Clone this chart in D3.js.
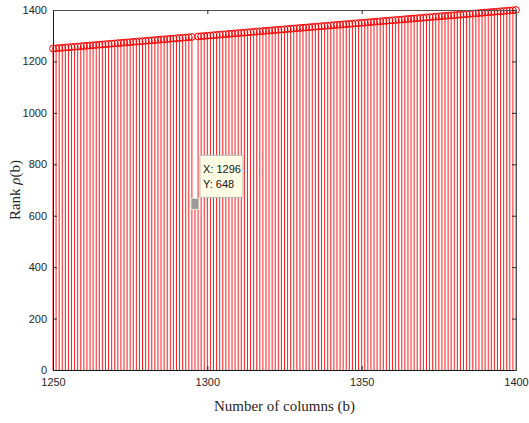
<!DOCTYPE html>
<html>
<head>
<meta charset="utf-8">
<script src="https://cdn.jsdelivr.net/npm/d3@7"></script>
<style>
  body { margin: 0; background: #fff; }
  svg { display: block; }
</style>
</head>
<body>
<main></main>
<script>
const WIDTH = 529
const HEIGHT = 423

// number of columns b
const columns = [
  1250,1251,1252,1253,1254,1255,1256,1257,1258,1259,
  1260,1261,1262,1263,1264,1265,1266,1267,1268,1269,
  1270,1271,1272,1273,1274,1275,1276,1277,1278,1279,
  1280,1281,1282,1283,1284,1285,1286,1287,1288,1289,
  1290,1291,1292,1293,1294,1295,1296,1297,1298,1299,
  1300,1301,1302,1303,1304,1305,1306,1307,1308,1309,
  1310,1311,1312,1313,1314,1315,1316,1317,1318,1319,
  1320,1321,1322,1323,1324,1325,1326,1327,1328,1329,
  1330,1331,1332,1333,1334,1335,1336,1337,1338,1339,
  1340,1341,1342,1343,1344,1345,1346,1347,1348,1349,
  1350,1351,1352,1353,1354,1355,1356,1357,1358,1359,
  1360,1361,1362,1363,1364,1365,1366,1367,1368,1369,
  1370,1371,1372,1373,1374,1375,1376,1377,1378,1379,
  1380,1381,1382,1383,1384,1385,1386,1387,1388,1389,
  1390,1391,1392,1393,1394,1395,1396,1397,1398,1399,
  1400
]

// rank rho(b)
const ranks = [
  1250,1251,1252,1253,1254,1255,1256,1257,1258,1259,
  1260,1261,1262,1263,1264,1265,1266,1267,1268,1269,
  1270,1271,1272,1273,1274,1275,1276,1277,1278,1279,
  1280,1281,1282,1283,1284,1285,1286,1287,1288,1289,
  1290,1291,1292,1293,1294,1295,648,1297,1298,1299,
  1300,1301,1302,1303,1304,1305,1306,1307,1308,1309,
  1310,1311,1312,1313,1314,1315,1316,1317,1318,1319,
  1320,1321,1322,1323,1324,1325,1326,1327,1328,1329,
  1330,1331,1332,1333,1334,1335,1336,1337,1338,1339,
  1340,1341,1342,1343,1344,1345,1346,1347,1348,1349,
  1350,1351,1352,1353,1354,1355,1356,1357,1358,1359,
  1360,1361,1362,1363,1364,1365,1366,1367,1368,1369,
  1370,1371,1372,1373,1374,1375,1376,1377,1378,1379,
  1380,1381,1382,1383,1384,1385,1386,1387,1388,1389,
  1390,1391,1392,1393,1394,1395,1396,1397,1398,1399,
  1400
]

const xTicks = [1250, 1300, 1350, 1400]
const yTicks = [0, 200, 400, 600, 800, 1000, 1200, 1400]

// datatip
const tipX = 1296
const tipY = 648

const margin = {left: 53, right: 13, top: 10, bottom: 53}

const svgCanvas = d3.select('main').append('svg')
  .attr('width', WIDTH)
  .attr('height', HEIGHT)

const x = d3.scaleLinear().domain([1250, 1400]).range([margin.left, WIDTH - margin.right])
const y = d3.scaleLinear().domain([0, 1400]).range([HEIGHT - margin.bottom, margin.top])

const nodes = columns.map((c, i) => ({c: c, r: ranks[i]}))

// stems
svgCanvas.append('g').selectAll('line')
  .data(nodes)
  .enter()
  .append('line')
  .attr('x1', d => x(d.c))
  .attr('x2', d => x(d.c))
  .attr('y1', y(0))
  .attr('y2', d => y(d.r))
  .style('stroke', '#ff0000')
  .style('stroke-width', 0.9)

// markers
svgCanvas.append('g').selectAll('circle')
  .data(nodes)
  .enter()
  .append('circle')
  .attr('cx', d => x(d.c))
  .attr('cy', d => y(d.r))
  .attr('r', 3.4)
  .style('fill', 'none')
  .style('stroke', '#ff0000')
  .style('stroke-width', 1)

const axisColor = '#262626'

// box + axes
const xAxis = svgCanvas.append('g')
  .attr('transform', `translate(0,${y(0)})`)
  .call(d3.axisBottom(x).tickValues(xTicks).tickSizeInner(-4).tickSizeOuter(0).tickPadding(8).tickFormat(d3.format('d')))
const yAxis = svgCanvas.append('g')
  .attr('transform', `translate(${x(1250)},0)`)
  .call(d3.axisLeft(y).tickValues(yTicks).tickSizeInner(-4).tickSizeOuter(0).tickPadding(6).tickFormat(d3.format('d')))
const xTop = svgCanvas.append('g')
  .attr('transform', `translate(0,${y(1400)})`)
  .call(d3.axisTop(x).tickValues(xTicks).tickSizeInner(-4).tickSizeOuter(0).tickFormat(''))
const yRight = svgCanvas.append('g')
  .attr('transform', `translate(${x(1400)},0)`)
  .call(d3.axisRight(y).tickValues(yTicks).tickSizeInner(-4).tickSizeOuter(0).tickFormat(''))

;[xAxis, yAxis, xTop, yRight].forEach(g => {
  g.selectAll('path').style('stroke', axisColor).style('stroke-width', 1)
  g.selectAll('line').style('stroke', axisColor)
  g.selectAll('text')
    .style('font-family', '"Liberation Sans", Arial, sans-serif')
    .style('font-size', '11px')
    .style('fill', axisColor)
})
xAxis.select('.domain').style('stroke', '#1a1a1a')
yAxis.select('.domain').style('stroke', '#1a1a1a')
xTop.select('.domain').style('stroke', '#555')
yRight.select('.domain').style('stroke', '#555')

// axis labels
svgCanvas.append('text')
  .attr('x', (x(1250) + x(1400)) / 2)
  .attr('y', 411)
  .attr('text-anchor', 'middle')
  .style('font-family', '"Liberation Serif", "Times New Roman", serif')
  .style('font-size', '15px')
  .style('fill', axisColor)
  .text('Number of columns (b)')

const yl = svgCanvas.append('text')
  .attr('transform', `translate(20,${(y(0) + y(1400)) / 2}) rotate(-90)`)
  .attr('text-anchor', 'middle')
  .style('font-family', '"Liberation Serif", "Times New Roman", serif')
  .style('font-size', '15px')
  .style('fill', axisColor)
yl.append('tspan').text('Rank ')
yl.append('tspan').style('font-style', 'italic').text('ρ')
yl.append('tspan').text('(b)')

// datatip
const tx = x(tipX), ty = y(tipY)
svgCanvas.append('rect')
  .attr('x', tx - 4)
  .attr('y', ty - 5)
  .attr('width', 8)
  .attr('height', 11)
  .style('fill', '#9a9a9a')
  .style('stroke', '#e6e2c8')
  .style('stroke-width', 1)

const tip = svgCanvas.append('g').attr('transform', `translate(${tx + 5},${ty - 48})`)
tip.append('rect')
  .attr('width', 43)
  .attr('height', 42)
  .style('fill', '#ffffe6')
  .style('stroke', '#bdbdbd')
  .style('stroke-width', 1)
tip.append('text')
  .attr('x', 3).attr('y', 18)
  .style('font-family', '"Liberation Sans", Arial, sans-serif')
  .style('font-size', '11px')
  .style('fill', '#111')
  .text(`X: ${tipX}`)
tip.append('text')
  .attr('x', 3).attr('y', 33)
  .style('font-family', '"Liberation Sans", Arial, sans-serif')
  .style('font-size', '11px')
  .style('fill', '#111')
  .text(`Y: ${tipY}`)
</script>
</body>
</html>
